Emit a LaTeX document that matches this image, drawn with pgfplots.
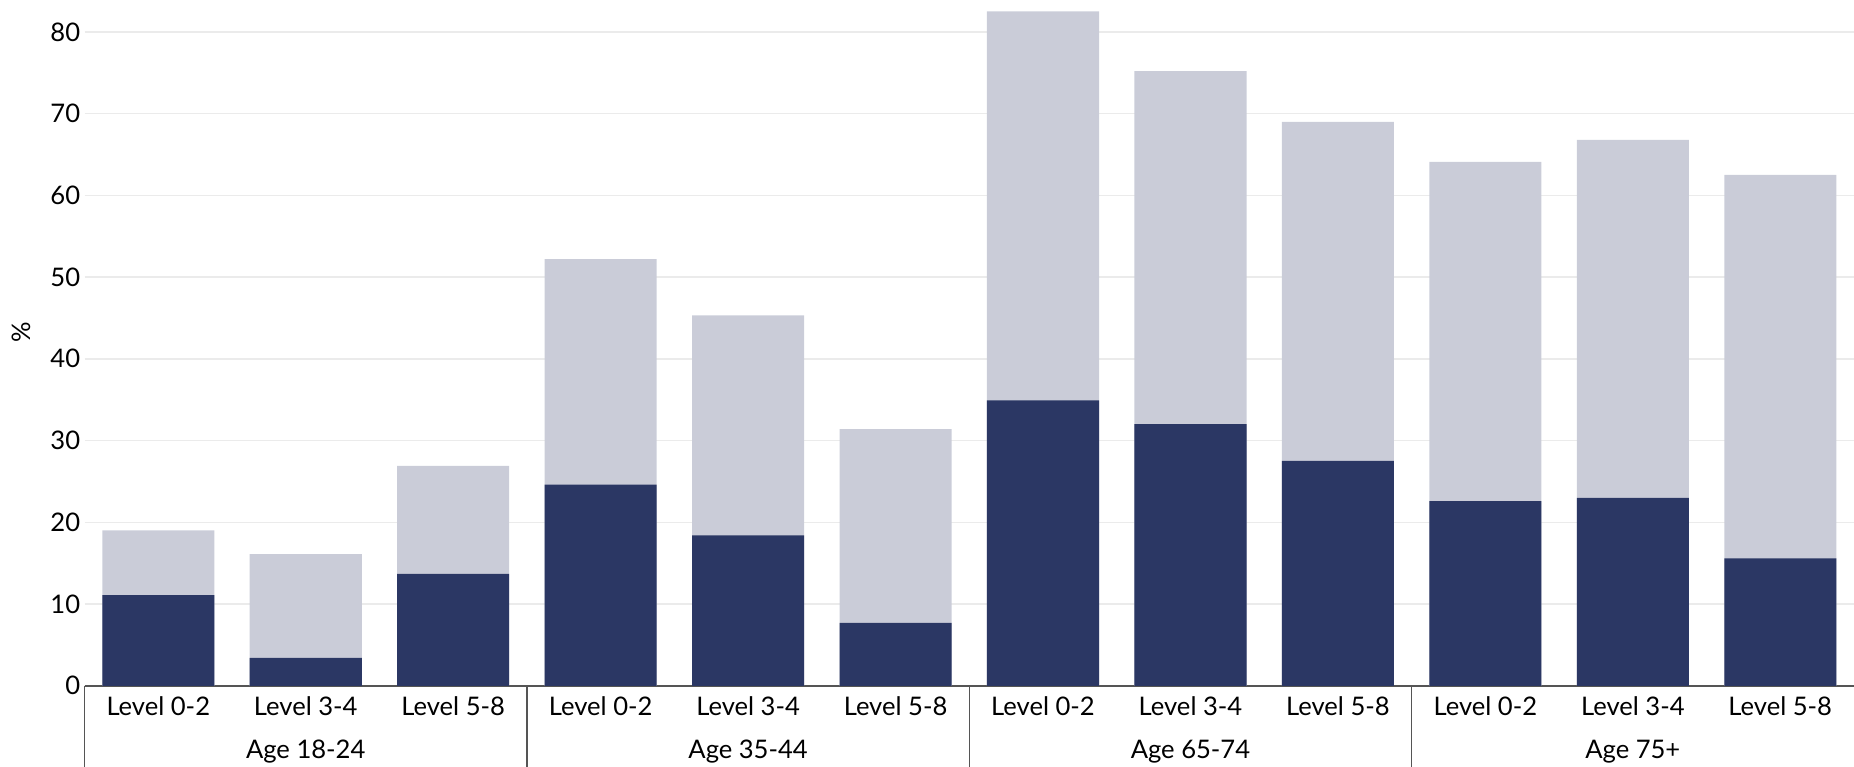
\documentclass[border=0pt]{standalone}
\usepackage{pgfplots}
\pgfplotsset{compat=1.18}
\usepackage{pgfplotstable}
\usepackage{fontspec}
\setmainfont{Lato}
\definecolor{navy}{HTML}{2B3764}
\definecolor{lightbar}{HTML}{CACCD8}
\definecolor{gridgray}{HTML}{EBEBEB}
\definecolor{axisgray}{HTML}{555555}
\newcommand{\lblfont}{\fontsize{12.8}{15}\selectfont}

% x = bar position, total = light bar height, part = dark bar height
\pgfplotstableread{
x  total part
0  19.0  11.1
1  16.1  3.4
2  26.9  13.7
3  52.2  24.6
4  45.3  18.4
5  31.4  7.7
6  82.5  34.9
7  75.2  32.0
8  69.0  27.5
9  64.1  22.6
10 66.8  23.0
11 62.5  15.6
}\datatable

\begin{document}
\begin{tikzpicture}
\begin{axis}[
  scale only axis,
  width=885pt, height=343pt,
  xmin=-0.5, xmax=11.5,
  ymin=0, ymax=83.9,
  axis x line*=bottom,
  axis y line*=left,
  x axis line style={draw=axisgray, line width=0.8pt},
  y axis line style={draw=none},
  major tick length=0pt,
  ytick={0,10,...,80},
  xtick={0,...,11},
  xticklabels={Level 0-2,Level 3-4,Level 5-8,Level 0-2,Level 3-4,Level 5-8,
               Level 0-2,Level 3-4,Level 5-8,Level 0-2,Level 3-4,Level 5-8},
  ticklabel style={font=\lblfont},
  /pgf/number format/assume math mode=true,
  xticklabel style={anchor=base, yshift=-14.8pt},
  yticklabel style={inner sep=0pt, xshift=-2pt},
  ymajorgrids=true,
  grid style={draw=gridgray, line width=0.75pt},
  ylabel={\%},
  ylabel style={font=\lblfont, at={(rel axis cs:-0.036,0.515)}, anchor=center},
  ybar, bar width=0.76, bar shift=0pt,
  clip=false,
]
\addplot[fill=lightbar, draw=none] table[x=x, y=total] {\datatable};
\addplot[fill=navy, draw=none] table[x=x, y=part] {\datatable};

\foreach \s in {-0.5,2.5,5.5,8.5} {
  \edef\tmp{\noexpand\draw[axisgray, line width=0.7pt] (axis cs:\s,0) -- ([yshift=-40.5pt]axis cs:\s,0);}
  \tmp
}
\node[font=\lblfont, anchor=base] at ([yshift=-36.2pt]axis cs:1,0) {Age 18-24};
\node[font=\lblfont, anchor=base] at ([yshift=-36.2pt]axis cs:4,0) {Age 35-44};
\node[font=\lblfont, anchor=base] at ([yshift=-36.2pt]axis cs:7,0) {Age 65-74};
\node[font=\lblfont, anchor=base] at ([yshift=-36.2pt]axis cs:10,0) {Age 75+};
\end{axis}
\pgfresetboundingbox
\path (current axis.south west) ++(-42.3pt,-40.5pt) rectangle (current axis.north east);
\end{tikzpicture}
\end{document}
